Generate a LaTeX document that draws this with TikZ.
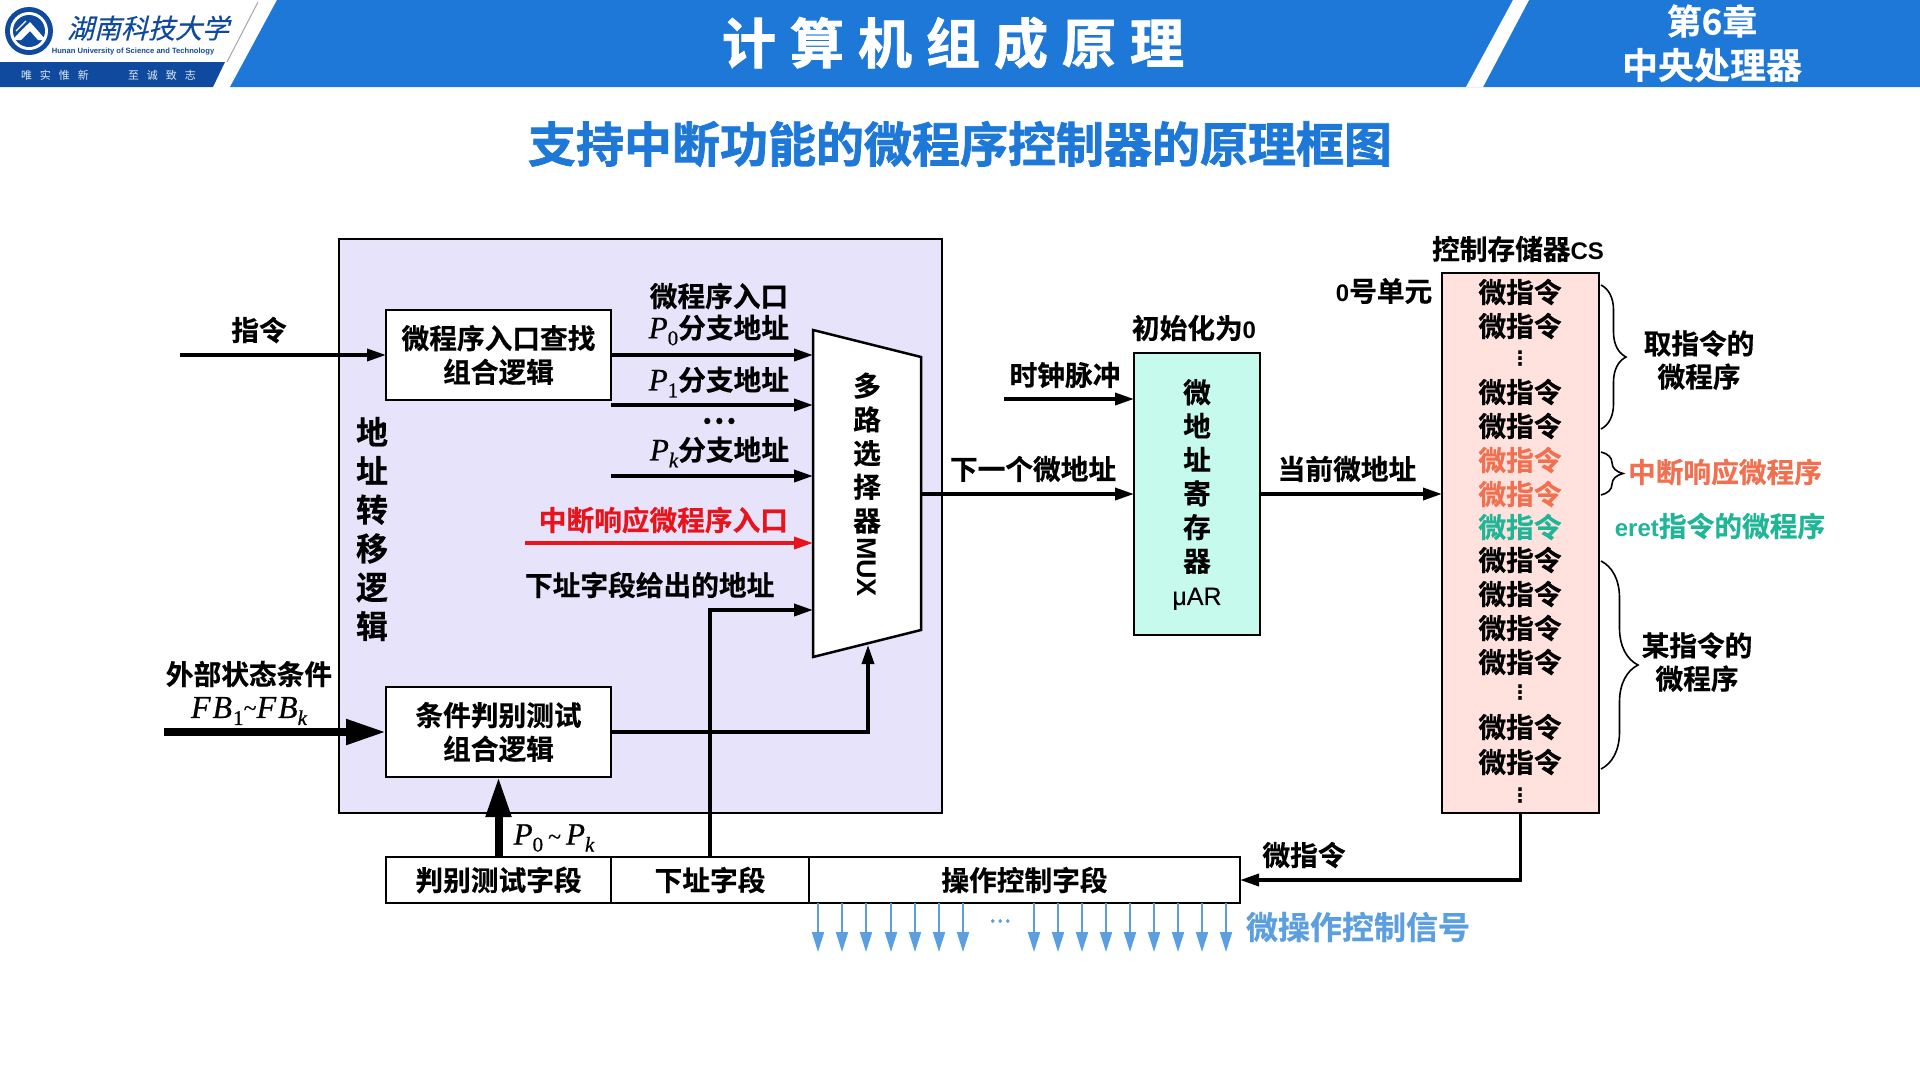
\documentclass[tikz,border=0pt]{standalone}
\usepackage{fontspec}
\usetikzlibrary{arrows.meta,decorations.pathreplacing}
\setmainfont{Noto Sans CJK SC}
\newfontfamily\heavy{Noto Sans CJK SC}[UprightFont=* Bold,FakeBold=0.5]
\newfontfamily\titlefont{Noto Sans CJK SC}[UprightFont=* Bold,FakeBold=1.5]
\newfontfamily\logofont{Noto Sans CJK SC}[FakeSlant=0.25,FakeBold=0.3]
\newfontfamily\arialb{Liberation Sans}[UprightFont=* Bold]
\newfontfamily\arialr{Liberation Sans}[FakeBold=0.3]
\newfontfamily\dotfont{DejaVu Sans}[UprightFont=* Bold]
\newfontfamily\mfont{Liberation Serif}[UprightFont=* Italic,FakeBold=0.6]
\newfontfamily\mfontup{Liberation Serif}[FakeBold=0.5]
\newcommand\fsz[1]{\fontsize{#1}{#1}\selectfont}
\newcommand\msub[1]{\raisebox{-7pt}{\fsz{21}#1}}
\newcommand\varP[1]{{\mfont\fsz{31}P\msub{#1}}}
\newcommand\ltn[1]{{\arialb\fsz{24}#1}}
\definecolor{hdr}{HTML}{1E78D8}
\definecolor{band}{HTML}{0F4A9E}
\definecolor{purp}{HTML}{E6E3FA}
\definecolor{cyanbox}{HTML}{C5FAEC}
\definecolor{pinkbox}{HTML}{FFE2DD}
\definecolor{redt}{HTML}{E8141C}
\definecolor{orat}{HTML}{F0704F}
\definecolor{grnt}{HTML}{1FB597}
\definecolor{blut}{HTML}{5B9FE0}
\tikzset{
  lbl/.style={inner sep=0pt,outer sep=0pt,align=center,font=\heavy\fsz{27.7}},
  cell/.style={draw=black,line width=2pt,inner sep=0pt,outer sep=0pt,align=center,font=\heavy\fsz{27.7}},
  arr/.style={draw=black,line width=3.5pt,-{Triangle[length=19pt,width=12pt]}},
  fatarr/.style={draw=black,line width=8pt,-{Triangle[length=40pt,width=24pt]}},
  redarr/.style={draw=redt,line width=3.5pt,-{Triangle[length=19pt,width=12pt]}},
  bluarr/.style={draw=blut,line width=2pt,-{Triangle[length=20pt,width=12pt]}},
  bracestyle/.style={draw=black,line width=1.6pt,decorate},
}
\begin{document}
\begin{tikzpicture}[x=1pt,y=-1pt]
\useasboundingbox (0,0) rectangle (1920,1080);
\fill[white] (0,0) rectangle (1920,1080);
% header
\fill[hdr] (277,0) -- (1920,0) -- (1920,87) -- (230,87) -- cycle;
\fill[white] (1513,0) -- (1529,0) -- (1483,87) -- (1466,87) -- cycle;
\draw[gray!70,line width=1pt] (258,2) -- (227,62);
\fill[band] (0,62) -- (225,62) -- (213,87) -- (0,87) -- cycle;
% logo
\fill[band] (29,31) circle (24);
\fill[white] (29,31) circle (19);
\fill[band] (29,31) circle (16);
\fill[white] (12,40) -- (30,22) -- (46,40) -- (38,40) -- (30,31) -- (21,40) -- cycle;
\draw[white,line width=1.2pt] (16,31) -- (26,21) (19,34) -- (28,25);
\node[lbl,font=\logofont\fsz{27},text=band] (logot) at (148,28) {湖南科技大学};
\node[lbl,font=\arialb\fsz{7.6},text=band] (logoe) at (133,52) {Hunan University of Science and Technology};
\node[lbl,font=\fsz{11},text=white!88!band] (logom) at (55,75) {唯\hspace{8pt}实\hspace{8pt}惟\hspace{8pt}新};
\node[lbl,font=\fsz{11},text=white!88!band] (logon) at (162,75) {至\hspace{8pt}诚\hspace{8pt}致\hspace{8pt}志};
% titles
\node[lbl,font=\titlefont\fsz{54},text=white] (ttl) at (953,43) {计\hspace{14pt}算\hspace{14pt}机\hspace{14pt}组\hspace{14pt}成\hspace{14pt}原\hspace{14pt}理};
\node[lbl,font=\heavy\fsz{35},text=white] (chap) at (1712,21) {第6章};
\node[lbl,font=\heavy\fsz{36},text=white] (chapn) at (1712,65) {中央处理器};
\node[lbl,font=\titlefont\fsz{48},text=hdr] (sub) at (960,144) {支持中断功能的微程序控制器的原理框图};
% address transfer logic
\node[draw=black,fill=purp,line width=2.5pt,minimum width=603pt,minimum height=574pt,inner sep=0pt,outer sep=0pt] (atl) at (640.5,526) {};
\node[cell,fill=white,minimum width=225pt,minimum height=90pt] (box1) at (498.5,355) {微程序入口查找\\[6pt]组合逻辑};
\node[cell,fill=white,minimum width=225pt,minimum height=90pt] (box2) at (498.5,732) {条件判别测试\\[6pt]组合逻辑};
\node[lbl,font=\heavy\fsz{32}] (atlt) at (372,529) {地\\[6.8pt]址\\[6.8pt]转\\[6.8pt]移\\[6.8pt]逻\\[6.8pt]辑};
% mux
\coordinate (mxa) at (813,330);
\coordinate (mxb) at (921,357);
\coordinate (mxc) at (921,630);
\coordinate (mxd) at (813,657);
\draw[fill=white,line width=2.5pt,line join=miter] (mxa) -- (mxb) -- (mxc) -- (mxd) -- cycle;
\node[lbl] (muxt) at (867,453) {多\\[6pt]路\\[6pt]选\\[6pt]择\\[6pt]器};
\node[lbl,font=\arialb\fsz{27},rotate=-90] (muxl) at (867,567) {MUX};
% coordinates for mux inputs
\coordinate (in0) at (813,355);
\coordinate (s1) at (611,405);
\coordinate (in1) at (813,405);
\coordinate (s2) at (611,476);
\coordinate (in2) at (813,476);
\coordinate (s3) at (525,543);
\coordinate (in3) at (813,543);
\coordinate (in4) at (813,610);
\coordinate (mxbot) at (868,645);
\coordinate (mxout) at (921,494);
\coordinate (instr) at (180,355);
\coordinate (ext) at (164,732);
\coordinate (clk) at (1004,399);
% labels left
\node[lbl] (linstr) at (259,330) {指令};
\node[lbl] (lext) at (249,674) {外部状态条件};
\node[lbl] (lfb) at (249,711) {{\mfont\fsz{32}F\hspace{2pt}B\hspace{1pt}\msub{{\mfontup 1}}\raisebox{2pt}{\mfontup\fsz{24}\textasciitilde}F\hspace{2pt}B\msub{k}}};
\node[lbl] (lp0) at (719,296) {微程序入口};
\node[lbl,anchor=east] (lp1) at (789,330) {\varP{{\mfontup 0}}分支地址};
\node[lbl,anchor=east] (lp2) at (789,382) {\varP{{\mfontup 1}}分支地址};
\node[lbl,font=\heavy\fsz{32}] (ldots) at (719,421) {⋯};
\node[lbl,anchor=east] (lp3) at (789,452) {\varP{k}分支地址};
\node[lbl,anchor=east,text=redt] (lint) at (788,520) {中断响应微程序入口};
\node[lbl,anchor=west] (laddr) at (525,585) {下址字段给出的地址};
\node[lbl] (lpp) at (554,838) {\varP{{\mfontup 0}}{\mfontup\fsz{24}\hspace{5pt}\textasciitilde\hspace{5pt}}\varP{k}};
% microinstruction fields
\node[cell,minimum width=225pt,minimum height=46pt] (f1) at (498.5,880) {判别测试字段};
\node[cell,minimum width=198pt,minimum height=46pt] (f2) at (710,880) {下址字段};
\node[cell,minimum width=431pt,minimum height=46pt] (f3) at (1024.5,880) {操作控制字段};
% connectors
\draw[arr] (instr) -- (box1.west);
\draw[arr] (box1.east) -- (in0);
\draw[arr] (s1) -- (in1);
\draw[arr] (s2) -- (in2);
\draw[redarr] (s3) -- (in3);
\draw[arr,line join=miter] (f2.north) |- (in4);
\draw[arr,line join=miter] (box2.east) -| (mxbot);
\draw[fatarr] (ext) -- (box2.west);
\draw[fatarr] (f1.north) -- (box2.south);
% microaddress register
\node[cell,fill=cyanbox,minimum width=126pt,minimum height=282pt] (mar) at (1197,494) {};
\node[lbl] (mart) at (1197,494.5) {微\\[6pt]地\\[6pt]址\\[6pt]寄\\[6pt]存\\[6pt]器\\[6pt]{\arialr\fsz{25}μAR}};
\node[lbl] (lzero) at (1194,328) {初始化为\ltn{0}};
\node[lbl] (lclk) at (1065,375) {时钟脉冲};
\node[lbl] (lnext) at (1033,469) {下一个微地址};
\draw[arr] (clk) -- (mar.west |- clk);
\draw[arr] (mxout) -- (mar.west);
% control store
\node[cell,fill=pinkbox,minimum width=157pt,minimum height=540pt] (cs) at (1520.5,543) {};
\node[lbl] (lcs) at (1518,249) {控制存储器\ltn{CS}};
\node[lbl] (lu0) at (1384,291) {\ltn{0}号单元};
\node[lbl] (lcur) at (1347,469) {当前微地址};
\draw[arr] (mar.east) -- (cs.west |- mar.east);
\foreach \yy/\cc [count=\i] in {292/black,326/black,392/black,426/black,460/orat,494/orat,527/grnt,560/black,594/black,628/black,662/black,727/black,762/black}
  \node[lbl,text=\cc] (mi\i) at (1520,\yy) {微指令};
\foreach \yy [count=\i] in {359,693,796}
  \node[lbl,font=\dotfont\fsz{20}] (vd\i) at (1520,\yy) {⋮};
% braces
\coordinate (b1a) at (1601,285); \coordinate (b1b) at (1601,429);
\coordinate (b2a) at (1601,452); \coordinate (b2b) at (1601,495);
\coordinate (b3a) at (1601,561); \coordinate (b3b) at (1601,769);
\draw[bracestyle,decoration={brace,amplitude=25pt}] (b1a) -- (b1b);
\draw[bracestyle,decoration={brace,amplitude=22pt}] (b2a) -- (b2b);
\draw[bracestyle,decoration={brace,amplitude=37pt}] (b3a) -- (b3b);
\node[lbl] (lfetch) at (1699,360) {取指令的\\[5.5pt]微程序};
\node[lbl,text=orat] (lintr) at (1725,472) {中断响应微程序};
\node[lbl,text=grnt] (leret) at (1720,526) {\ltn{eret}指令的微程序};
\node[lbl] (lsome) at (1697,662) {某指令的\\[5.5pt]微程序};
\node[lbl] (lmi) at (1304,855) {微指令};
\draw[arr,line join=miter] (cs.south) |- (f3.east);
% control signals
\foreach \xx [count=\i] in {818,842,866,891,915,939,963,1034,1058,1082,1106,1130,1154,1178,1202,1226}{
  \coordinate (sg\i) at (\xx,952);
  \draw[bluarr] (sg\i |- f3.south) -- (sg\i);
}
\node[lbl,font=\heavy\fsz{20},text=blut] (sgd) at (1000,921) {⋯};
\node[lbl,font=\heavy\fsz{32},text=blut] (lsig) at (1358,927) {微操作控制信号};
\end{tikzpicture}
\end{document}
